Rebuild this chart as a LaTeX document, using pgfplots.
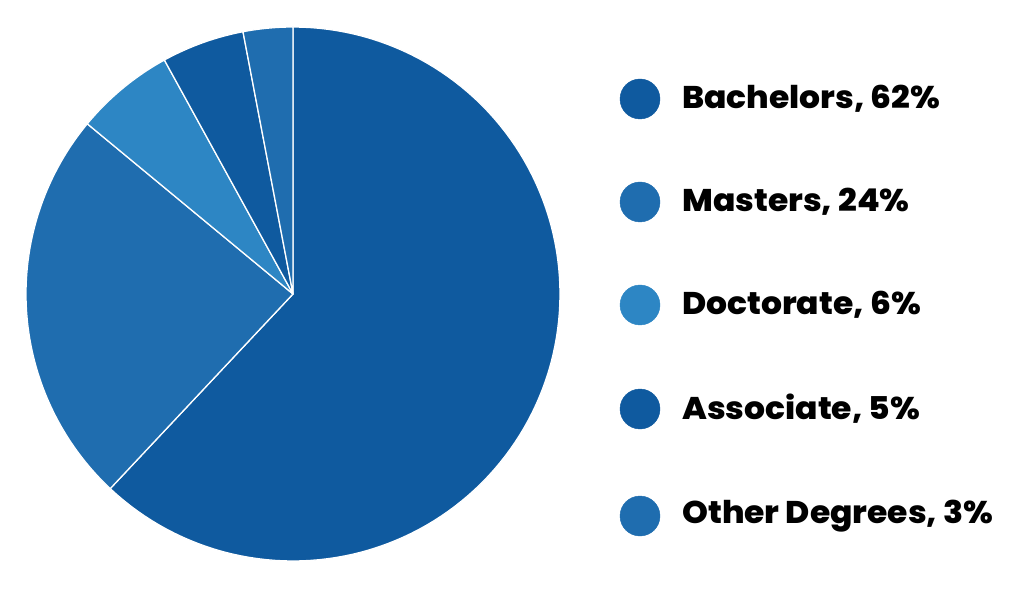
\documentclass[border=0pt]{standalone}
\usepackage{pgfplots}
\usepackage{pgfplotstable}
\pgfplotsset{compat=1.18}
\usepackage{fontspec}
\setmainfont{Poppins}[BoldFont={Poppins ExtraBold}]
\definecolor{c0}{HTML}{0F5A9F}
\definecolor{c1}{HTML}{1F6DAF}
\definecolor{c2}{HTML}{2D86C4}
\definecolor{c3}{HTML}{0F5A9F}
\definecolor{c4}{HTML}{1F6DAF}
\pgfplotstableread{
label value ly
Bachelors 62 490
Masters 24 387
Doctorate 6 284
Associate 5 180
{Other Degrees} 3 73
}\piedata
\begin{document}
\begin{tikzpicture}
\begin{axis}[
  scale only axis, width=1035bp, height=589bp,
  xmin=0, xmax=1035, ymin=0, ymax=589,
  hide axis, clip=false,
]
\path (axis cs:0,0) rectangle (axis cs:1035,589);
\def\cum{0}
\pgfplotsforeachungrouped \i in {0,...,4}{%
  \pgfplotstablegetelem{\i}{value}\of\piedata \let\v\pgfplotsretval
  \pgfplotstablegetelem{\i}{label}\of\piedata \let\lab\pgfplotsretval
  \pgfplotstablegetelem{\i}{ly}\of\piedata \let\ly\pgfplotsretval
  \pgfmathsetmacro\a{90-3.6*\cum}%
  \pgfmathsetmacro\b{90-3.6*(\cum+\v)}%
  \edef\temp{%
    \noexpand\addplot[fill=c\i, draw=white, line width=1.3pt, line join=round, domain=\b:\a, samples=120, variable=\noexpand\t]
      ({293+267*cos(\noexpand\t)},{295+267*sin(\noexpand\t)}) -- (axis cs:293,295) -- cycle;
    \noexpand\addplot[only marks, mark=*, color=c\i, mark size=20bp] coordinates {(640,\ly)};
    \noexpand\node[anchor=west, xscale=1.05, font=\noexpand\fontsize{31.5}{34}\noexpand\selectfont\noexpand\bfseries, text=black, inner sep=0pt] at (axis cs:682,\ly) {\lab, \v\noexpand\%};
  }%
  \temp
  \pgfmathsetmacro\cum{\cum+\v}%
}
\end{axis}
\end{tikzpicture}
\end{document}
